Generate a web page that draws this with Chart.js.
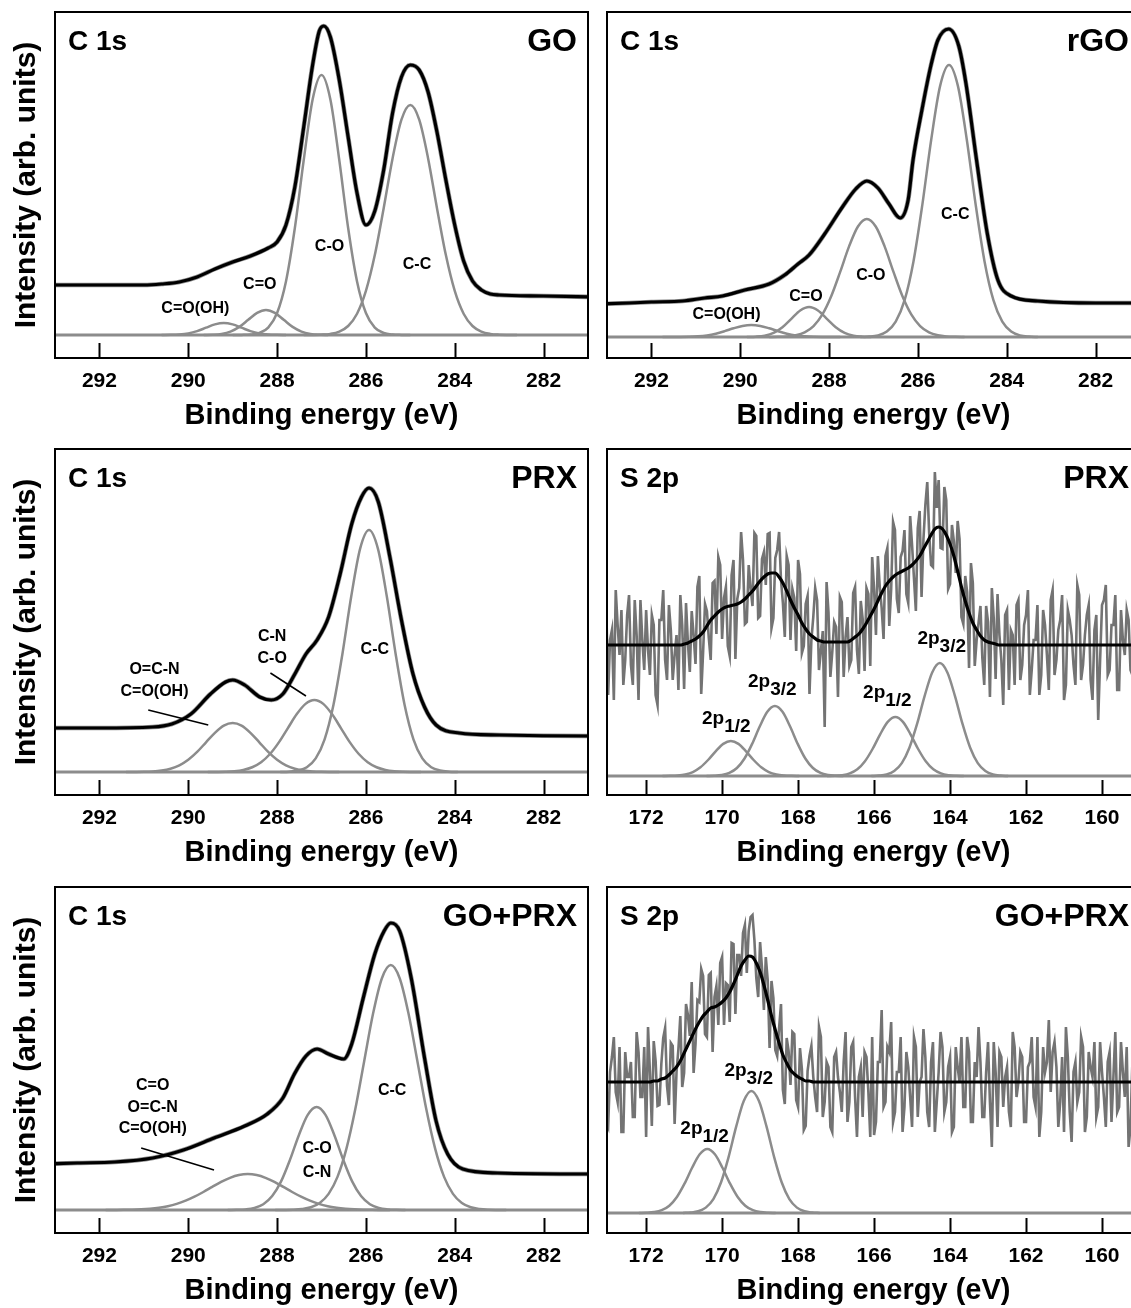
<!DOCTYPE html>
<html>
<head>
<meta charset="utf-8">
<title>XPS C 1s / S 2p</title>
<script src="https://cdn.jsdelivr.net/npm/chart.js"></script>
<style>
  html, body { margin: 0; padding: 0; background: #fff; }
  body { position: relative; width: 1131px; height: 1308px; overflow: hidden; }
  canvas { position: absolute; }
</style>
</head>
<body>
<script>
// ---- axis ticks ----
const c1sTicks = [292, 290, 288, 286, 284, 282];
const s2pTicks = [172, 170, 168, 166, 164, 162, 160];

// ---- C 1s, GO ----  [binding energy, intensity]
const goEnvelope = [[293.2,50],[292.5,50],[292,50],[291.5,50],[291,50],[290.6,51],[290.2,53],[289.8,58],[289.4,66],[289,73],[288.6,79],[288.2,87],[288,93],[287.8,110],[287.6,148],[287.4,208],[287.2,270],[287.05,304],[286.95,309],[286.8,298],[286.6,255],[286.4,198],[286.2,142],[286.0,110],[285.8,124],[285.6,165],[285.4,222],[285.2,258],[285.0,270],[284.8,265],[284.6,243],[284.4,203],[284.2,155],[284.0,110],[283.8,74],[283.6,54],[283.4,45],[283.2,41],[283,40],[282,39],[280.8,38]];
const goCOOH = [[290.6,0],[290.4,0.13],[290.2,0.53],[290.0,1.6],[289.8,3.9],[289.6,7.3],[289.4,10.6],[289.2,12],[289.0,10.6],[288.8,7.3],[288.6,3.9],[288.4,1.6],[288.2,0.53],[288.0,0.13],[287.8,0]];
const goCdO = [[289.65,0],[289.45,0.28],[289.25,1.1],[289.05,3.4],[288.85,8.1],[288.65,15.2],[288.45,22.1],[288.25,25],[288.05,22.1],[287.85,15.2],[287.65,8.1],[287.45,3.4],[287.25,1.1],[287.05,0.28],[286.85,0]];
const goCO = [[289.0,0],[288.8,0.09],[288.6,0.47],[288.4,2.1],[288.2,7.4],[288.0,22],[287.8,53.6],[287.6,107],[287.4,175],[287.2,235.6],[287.0,260],[286.8,235.6],[286.6,175],[286.4,107],[286.2,53.6],[286.0,22],[285.8,7.4],[285.6,2.1],[285.4,0.47],[285.2,0.09],[285.0,0]];
const goCC = [[287.4,0],[287.2,0.08],[287.0,0.32],[286.8,1.1],[286.6,3.4],[286.4,9],[286.2,21.3],[286.0,44.1],[285.8,79.9],[285.6,126.8],[285.4,176.6],[285.2,215.3],[285.0,230],[284.8,215.3],[284.6,176.6],[284.4,126.8],[284.2,79.9],[284.0,44.1],[283.8,21.3],[283.6,9],[283.4,3.4],[283.2,1.1],[283.0,0.32],[282.8,0.08],[282.6,0]];

// ---- C 1s, rGO ----
const rgoEnvelope = [[293.2,33],[292.5,34],[292,35],[291.3,36],[290.8,39],[290.4,41],[289.9,47],[289.35,53],[289,62],[288.7,73],[288.45,82],[288.1,103],[287.7,130],[287.4,148],[287.15,156],[286.9,149],[286.65,133],[286.4,119],[286.22,137],[286.11,177],[285.91,227],[285.71,271],[285.55,297],[285.31,308],[285.08,291],[284.92,254],[284.68,177],[284.44,104],[284.2,57],[283.9,41],[283.3,36],[282,34],[280.8,34]];
const rgoCOOH = [[291.75,0],[291.55,0.02],[291.35,0.07],[291.15,0.24],[290.95,0.67],[290.75,1.62],[290.55,3.34],[290.35,5.84],[290.15,8.71],[289.95,11.08],[289.75,12],[289.55,11.08],[289.35,8.71],[289.15,5.84],[288.95,3.34],[288.75,1.62],[288.55,0.67],[288.35,0.24],[288.15,0.07],[287.95,0.02],[287.75,0]];
const rgoCdO = [[289.85,0],[289.65,0.33],[289.45,1.32],[289.25,4.06],[289.05,9.74],[288.85,18.2],[288.65,26.5],[288.45,30],[288.25,26.5],[288.05,18.2],[287.85,9.74],[287.65,4.06],[287.45,1.32],[287.25,0.33],[287.05,0]];
const rgoCO = [[289.35,0],[289.15,0.17],[288.95,0.55],[288.75,1.72],[288.55,4.63],[288.35,10.94],[288.15,22.6],[287.95,41],[287.75,65.1],[287.55,90.6],[287.35,110.5],[287.15,118],[286.95,110.5],[286.75,90.6],[286.55,65.1],[286.35,41],[286.15,22.6],[285.95,10.94],[285.75,4.63],[285.55,1.72],[285.35,0.55],[285.15,0.17],[284.95,0]];
const rgoCC = [[287.3,0],[287.1,0.41],[286.9,1.63],[286.7,5.39],[286.5,15.26],[286.3,36.8],[286.1,75.6],[285.9,132.4],[285.7,197.5],[285.5,251.1],[285.3,272],[285.1,251.1],[284.9,197.5],[284.7,132.4],[284.5,75.6],[284.3,36.8],[284.1,15.26],[283.9,5.39],[283.7,1.63],[283.5,0.41],[283.3,0]];

// ---- C 1s, PRX ----
const prxEnvelope = [[293.2,44],[292,44],[290.8,45],[290.37,48],[289.94,58],[289.5,78],[289.16,90],[289.0,92],[288.73,87],[288.39,75],[288.13,72],[287.87,78],[287.6,98],[287.35,118],[287.1,132],[286.84,155],[286.58,198],[286.32,248],[286.1,275],[285.93,284],[285.72,270],[285.46,215],[285.2,152],[284.94,98],[284.68,65],[284.42,47],[283.9,39],[283,37],[281,36],[280.8,36]];
const prxOCN = [[291.4,0],[291.2,0.06],[291.0,0.19],[290.8,0.54],[290.6,1.4],[290.4,3.22],[290.2,6.63],[290.0,12.2],[289.8,20.1],[289.6,29.7],[289.4,39.2],[289.2,46.4],[289.0,49],[288.8,46.4],[288.6,39.2],[288.4,29.7],[288.2,20.1],[288.0,12.2],[287.8,6.63],[287.6,3.22],[287.4,1.4],[287.2,0.54],[287.0,0.19],[286.8,0.06],[286.6,0]];
const prxCN = [[289.56,0],[289.36,0.09],[289.16,0.28],[288.96,0.8],[288.76,2.05],[288.56,4.73],[288.36,9.74],[288.16,17.96],[287.96,29.6],[287.76,43.7],[287.56,57.65],[287.36,68.1],[287.16,72],[286.96,68.1],[286.76,57.65],[286.56,43.7],[286.36,29.6],[286.16,17.96],[285.96,9.74],[285.76,4.73],[285.56,2.05],[285.36,0.8],[285.16,0.28],[284.96,0.09],[284.76,0]];
const prxCC = [[287.93,0],[287.73,0.36],[287.53,1.45],[287.33,4.79],[287.13,13.58],[286.93,32.7],[286.73,67.3],[286.53,117.8],[286.33,175.7],[286.13,223.4],[285.93,242],[285.73,223.4],[285.53,175.7],[285.33,117.8],[285.13,67.3],[284.93,32.7],[284.73,13.58],[284.53,4.79],[284.33,1.45],[284.13,0.36],[283.93,0]];

// ---- C 1s, GO+PRX ----
const gpEnvelope = [[293.2,46],[292.5,47],[291.66,48],[290.8,52],[290.11,60],[289.42,72],[288.73,84],[288.22,96],[287.87,112],[287.61,136],[287.35,154],[287.1,161],[286.84,156],[286.5,151],[286.32,166],[286.06,212],[285.8,256],[285.59,279],[285.44,287],[285.24,279],[284.98,232],[284.68,152],[284.42,89],[284.16,56],[283.82,41],[283.04,37],[281,36],[280.8,36]];
const gpOCN = [[291.86,0],[291.66,0.07],[291.46,0.16],[291.26,0.33],[291.06,0.67],[290.86,1.3],[290.66,2.3],[290.46,3.8],[290.26,6.1],[290.06,9.3],[289.86,13.3],[289.66,18],[289.46,23.1],[289.26,28.1],[289.06,32.2],[288.86,35],[288.66,36],[288.46,35],[288.26,32.2],[288.06,28.1],[287.86,23.1],[287.66,18],[287.46,13.3],[287.26,9.3],[287.06,6.1],[286.86,3.8],[286.66,2.3],[286.46,1.3],[286.26,0.67],[286.06,0.33],[285.86,0.16],[285.66,0.07],[285.46,0]];
const gpCO = [[289.11,0],[288.91,0.16],[288.71,0.62],[288.51,2.04],[288.31,5.78],[288.11,13.9],[287.91,28.6],[287.71,50.1],[287.51,74.8],[287.31,95.1],[287.11,103],[286.91,95.1],[286.71,74.8],[286.51,50.1],[286.31,28.6],[286.11,13.9],[285.91,5.78],[285.71,2.04],[285.51,0.62],[285.31,0.16],[285.11,0]];
const gpCC = [[288.04,0],[287.84,0.08],[287.64,0.29],[287.44,0.96],[287.24,2.72],[287.04,6.98],[286.84,16.1],[286.64,33.1],[286.44,61.1],[286.24,100.7],[286.04,148.6],[285.84,196.2],[285.64,231.8],[285.44,245],[285.24,231.8],[285.04,196.2],[284.84,148.6],[284.64,100.7],[284.44,61.1],[284.24,33.1],[284.04,16.1],[283.84,6.98],[283.64,2.72],[283.44,0.96],[283.24,0.29],[283.04,0.08],[282.84,0]];

// ---- S 2p fit grid (eV, 0.1 step) ----
const s2pEnergy = [
  173.2,173.1,173.0,172.9,172.8,172.7,172.6,172.5,172.4,172.3,
  172.2,172.1,172.0,171.9,171.8,171.7,171.6,171.5,171.4,171.3,
  171.2,171.1,171.0,170.9,170.8,170.7,170.6,170.5,170.4,170.3,
  170.2,170.1,170.0,169.9,169.8,169.7,169.6,169.5,169.4,169.3,
  169.2,169.1,169.0,168.9,168.8,168.7,168.6,168.5,168.4,168.3,
  168.2,168.1,168.0,167.9,167.8,167.7,167.6,167.5,167.4,167.3,
  167.2,167.1,167.0,166.9,166.8,166.7,166.6,166.5,166.4,166.3,
  166.2,166.1,166.0,165.9,165.8,165.7,165.6,165.5,165.4,165.3,
  165.2,165.1,165.0,164.9,164.8,164.7,164.6,164.5,164.4,164.3,
  164.2,164.1,164.0,163.9,163.8,163.7,163.6,163.5,163.4,163.3,
  163.2,163.1,163.0,162.9,162.8,162.7,162.6,162.5,162.4,162.3,
  162.2,162.1,162.0,161.9,161.8,161.7,161.6,161.5,161.4,161.3,
  161.2,161.1,161.0,160.9,160.8,160.7,160.6,160.5,160.4,160.3,
  160.2,160.1,160.0,159.9,159.8,159.7,159.6,159.5,159.4,159.3,
  159.2
];

// ---- S 2p measured grid (eV, 0.05 step) ----
const s2pScanEnergy = [
  173.2,173.15,173.1,173.05,173,172.95,172.9,172.85,172.8,172.75,172.7,172.65,172.6,172.55,172.5,172.45,172.4,172.35,172.3,172.25,
  172.2,172.15,172.1,172.05,172,171.95,171.9,171.85,171.8,171.75,171.7,171.65,171.6,171.55,171.5,171.45,171.4,171.35,171.3,171.25,
  171.2,171.15,171.1,171.05,171,170.95,170.9,170.85,170.8,170.75,170.7,170.65,170.6,170.55,170.5,170.45,170.4,170.35,170.3,170.25,
  170.2,170.15,170.1,170.05,170,169.95,169.9,169.85,169.8,169.75,169.7,169.65,169.6,169.55,169.5,169.45,169.4,169.35,169.3,169.25,
  169.2,169.15,169.1,169.05,169,168.95,168.9,168.85,168.8,168.75,168.7,168.65,168.6,168.55,168.5,168.45,168.4,168.35,168.3,168.25,
  168.2,168.15,168.1,168.05,168,167.95,167.9,167.85,167.8,167.75,167.7,167.65,167.6,167.55,167.5,167.45,167.4,167.35,167.3,167.25,
  167.2,167.15,167.1,167.05,167,166.95,166.9,166.85,166.8,166.75,166.7,166.65,166.6,166.55,166.5,166.45,166.4,166.35,166.3,166.25,
  166.2,166.15,166.1,166.05,166,165.95,165.9,165.85,165.8,165.75,165.7,165.65,165.6,165.55,165.5,165.45,165.4,165.35,165.3,165.25,
  165.2,165.15,165.1,165.05,165,164.95,164.9,164.85,164.8,164.75,164.7,164.65,164.6,164.55,164.5,164.45,164.4,164.35,164.3,164.25,
  164.2,164.15,164.1,164.05,164,163.95,163.9,163.85,163.8,163.75,163.7,163.65,163.6,163.55,163.5,163.45,163.4,163.35,163.3,163.25,
  163.2,163.15,163.1,163.05,163,162.95,162.9,162.85,162.8,162.75,162.7,162.65,162.6,162.55,162.5,162.45,162.4,162.35,162.3,162.25,
  162.2,162.15,162.1,162.05,162,161.95,161.9,161.85,161.8,161.75,161.7,161.65,161.6,161.55,161.5,161.45,161.4,161.35,161.3,161.25,
  161.2,161.15,161.1,161.05,161,160.95,160.9,160.85,160.8,160.75,160.7,160.65,160.6,160.55,160.5,160.45,160.4,160.35,160.3,160.25,
  160.2,160.15,160.1,160.05,160,159.95,159.9,159.85,159.8,159.75,159.7,159.65,159.6,159.55,159.5,159.45,159.4,159.35,159.3,159.25,
  159.2
];

// ---- S 2p, PRX ----
const sprxData = [
  141,101,106,171,81,136,146,76,186,151,121,166,91,116,161,181,111,91,176,141,
  76,176,136,106,166,126,101,161,151,81,71,156,156,186,116,96,171,146,96,121,
  141,86,181,151,87,173,133,104,165,141,112,189,200,82,124,172,165,138,116,193,
  195,142,219,211,137,178,189,130,120,201,216,117,177,188,244,216,152,154,211,188,
  170,243,240,158,160,217,224,191,242,243,148,158,218,226,244,196,173,139,220,211,
  136,187,178,125,216,202,123,130,172,180,82,136,159,188,176,106,125,145,49,194,
  164,99,124,154,149,79,179,174,99,139,159,110,116,183,189,126,102,175,157,105,
  188,182,110,219,187,141,220,189,168,137,220,228,150,187,254,246,177,163,219,225,
  246,182,173,260,231,198,165,248,265,179,237,271,294,243,211,209,304,268,296,228,
  227,289,276,187,192,251,235,203,255,237,159,152,200,184,108,213,193,110,136,153,
  170,118,91,170,154,79,188,158,97,182,141,116,71,161,166,86,146,141,91,171,
  176,96,111,151,161,186,81,106,136,136,171,81,101,166,151,121,86,176,186,101,
  116,146,156,181,76,91,166,156,141,111,91,191,181,96,111,141,161,171,96,76,
  146,161,56,116,171,176,191,101,106,151,151,181,86,86,166,136,121,166,156,106,
  101
];
const sprxEnvelope = [
  131,131,131,131,131,131,131,131,131,131,
  131,131,131,131,131,131,131,131,131,131,
  131,131,132,133,135,137,140,144,150,156,
  160,164,167,169,170,171,172,174,177,181,
  185,190,195,199,202,203,203,199,193,185,
  176,168,161,153,147,142,139,136,135,134,
  134,134,134,134,134,134,136,139,142,147,
  153,160,167,175,183,190,195,199,202,204,
  206,208,211,215,220,227,234,241,247,249,
  247,241,232,220,205,189,175,163,153,146,
  140,136,134,133,132,131,131,131,131,131,
  131,131,131,131,131,131,131,131,131,131,
  131,131,131,131,131,131,131,131,131,131,
  131,131,131,131,131,131,131,131,131,131,
  131
];
const sprx12a = [[171.57,0],[171.37,0.14],[171.17,0.5],[170.97,1.54],[170.77,3.99],[170.57,8.75],[170.37,16],[170.17,24.7],[169.97,32.1],[169.77,35],[169.57,32.1],[169.37,24.7],[169.17,16],[168.97,8.75],[168.77,3.99],[168.57,1.54],[168.37,0.5],[168.17,0.14],[167.97,0]];
const sprx32a = [[170.41,0],[170.21,0.27],[170.01,1],[169.81,3.08],[169.61,7.98],[169.41,17.5],[169.21,32.1],[169.01,49.5],[168.81,64.2],[168.61,70],[168.41,64.2],[168.21,49.5],[168.01,32.1],[167.81,17.5],[167.61,7.98],[167.41,3.08],[167.21,1],[167.01,0.27],[166.81,0]];
const sprx12b = [[167.24,0],[167.04,0.23],[166.84,0.84],[166.64,2.6],[166.44,6.7],[166.24,14.75],[166.04,27],[165.84,41.7],[165.64,54.1],[165.44,59],[165.24,54.1],[165.04,41.7],[164.84,27],[164.64,14.75],[164.44,6.7],[164.24,2.6],[164.04,0.84],[163.84,0.23],[163.64,0]];
const sprx32b = [[166.07,0],[165.87,0.44],[165.67,1.6],[165.47,5],[165.27,12.9],[165.07,28.25],[164.87,51.8],[164.67,79.9],[164.47,103.6],[164.27,113],[164.07,103.6],[163.87,79.9],[163.67,51.8],[163.47,28.25],[163.27,12.9],[163.07,5],[162.87,1.6],[162.67,0.44],[162.47,0]];

// ---- S 2p, GO+PRX ----
const sgpData = [
  111,156,146,91,86,141,156,176,121,111,166,81,81,161,136,136,151,96,96,181,
  161,116,116,166,76,186,141,87,172,152,107,108,149,175,185,127,108,170,167,89,
  141,164,197,126,140,209,198,177,231,140,169,213,211,244,237,179,176,238,240,161,
  216,227,188,250,256,188,230,228,191,270,269,199,258,258,237,280,288,240,282,296,
  298,273,235,216,271,245,203,256,233,165,232,215,163,157,185,209,123,109,175,162,
  128,181,179,113,106,165,144,83,87,142,157,167,136,116,101,186,176,96,111,151,
  146,86,81,156,161,136,121,101,151,181,91,111,166,171,116,76,136,146,96,161,
  156,121,76,176,78,91,151,151,203,106,111,166,161,191,91,101,141,141,176,81,
  106,161,146,116,86,176,166,96,131,136,184,156,101,86,151,171,81,111,141,181,
  166,101,111,146,156,81,86,166,146,131,176,106,106,176,161,91,91,151,136,186,
  151,96,96,141,171,111,66,171,141,86,161,156,106,136,146,101,86,181,166,116,
  131,161,156,91,91,146,151,176,116,106,176,76,101,166,141,151,193,121,161,171,
  146,86,111,156,81,186,156,101,71,141,151,111,121,176,166,81,96,161,146,136,
  171,96,106,171,141,116,86,151,161,91,136,181,101,106,171,141,116,166,66,86,
  151
];
const sgpEnvelope = [
  131,131,131,131,131,131,131,131,131,131,
  131,131,131,131,132,132,134,135,138,142,
  146,152,160,168,176,184,191,197,201,205,
  206,208,211,215,221,229,238,247,253,257,
  256,250,241,228,213,197,183,170,158,150,
  143,139,136,134,132,132,131,131,131,131,
  131,131,131,131,131,131,131,131,131,131,
  131,131,131,131,131,131,131,131,131,131,
  131,131,131,131,131,131,131,131,131,131,
  131,131,131,131,131,131,131,131,131,131,
  131,131,131,131,131,131,131,131,131,131,
  131,131,131,131,131,131,131,131,131,131,
  131,131,131,131,131,131,131,131,131,131,
  131,131,131,131,131,131,131,131,131,131,
  131
];
const sgp12 = [[172.19,0],[171.99,0.25],[171.79,0.91],[171.59,2.8],[171.39,7.3],[171.19,16],[170.99,29.3],[170.79,45.2],[170.59,58.7],[170.39,64],[170.19,58.7],[169.99,45.2],[169.79,29.3],[169.59,16],[169.39,7.3],[169.19,2.8],[168.99,0.91],[168.79,0.25],[168.59,0]];
const sgp32 = [[171.03,0],[170.83,0.48],[170.63,1.7],[170.43,5.4],[170.23,13.9],[170.03,30.5],[169.83,55.9],[169.63,86.3],[169.43,111.9],[169.23,122],[169.03,111.9],[168.83,86.3],[168.63,55.9],[168.43,30.5],[168.23,13.9],[168.03,5.4],[167.83,1.7],[167.63,0.48],[167.43,0]];

// ---- shared look ----
const FONT = "'Liberation Sans', Arial, Helvetica, sans-serif";
const BLACK = "#000000";
const DATA_GREY = "#737373";
const FIT_GREY = "#8c8c8c";

Chart.defaults.font.family = FONT;
Chart.defaults.color = BLACK;

function pairsToPoints(pairs) {
    return pairs.map(p => ({ x: p[0], y: p[1] }));
}

function gridToPoints(energy, values) {
    return values.map((v, i) => ({ x: energy[i], y: v }));
}

function curve(points, color, width, smooth) {
    return {
        data: points,
        borderColor: color,
        borderWidth: width,
        pointRadius: 0,
        fill: false,
        tension: 0,
        cubicInterpolationMode: smooth ? "monotone" : "default"
    };
}

// frame, inward ticks, corner titles and peak labels
const panelDecor = {
    id: "panelDecor",
    afterDatasetsDraw(chart, args, opts) {
        const { ctx, chartArea: a, scales: { x, y } } = chart;
        ctx.save();

        ctx.strokeStyle = BLACK;
        ctx.lineWidth = 2;
        ctx.strokeRect(a.left, a.top, a.right - a.left, a.bottom - a.top);

        x.ticks.forEach(t => {
            const px = Math.round(x.getPixelForValue(t.value)) + 0.5;
            ctx.beginPath();
            ctx.moveTo(px, a.bottom);
            ctx.lineTo(px, a.bottom - 15);
            ctx.stroke();
        });

        ctx.fillStyle = BLACK;
        ctx.textBaseline = "alphabetic";
        ctx.font = `bold 28px ${FONT}`;
        ctx.textAlign = "left";
        ctx.fillText(opts.core, a.left + 13, a.top + 38);
        ctx.font = `bold 32px ${FONT}`;
        ctx.textAlign = "right";
        ctx.fillText(opts.sample, a.right - 11, a.top + 39);

        ctx.textBaseline = "middle";
        (opts.labels || []).forEach(l => {
            const cx = x.getPixelForValue(l.x);
            const cy = y.getPixelForValue(l.y);
            if (l.sub) {
                ctx.font = `bold 19px ${FONT}`;
                const w1 = ctx.measureText(l.text).width;
                const w2 = ctx.measureText(l.sub).width;
                const x0 = cx - (w1 + w2) / 2;
                ctx.textAlign = "left";
                ctx.fillText(l.text, x0, cy - 3);
                ctx.fillText(l.sub, x0 + w1, cy + 5);
            } else {
                ctx.font = `bold 16px ${FONT}`;
                ctx.textAlign = "center";
                ctx.fillText(l.text, cx, cy);
            }
        });
        ctx.restore();
    }
};

const c1sBase = [[293.5, 0], [280.5, 0]];
const s2pBase = [[173.5, 0], [158.5, 0]];

const panels = [
    {
        left: 0, top: 0, width: 600, yWidth: 55, yTitle: true,
        xMin: 281, xMax: 293, yMin: -23, yMax: 323, ticks: c1sTicks,
        core: "C 1s", sample: "GO",
        envelope: pairsToPoints(goEnvelope), noisy: null,
        parts: [goCOOH, goCdO, goCO, goCC], base: c1sBase, leaders: [],
        labels: [
            { text: "C-O", x: 286.82, y: 88 },
            { text: "C-C", x: 284.85, y: 70 },
            { text: "C=O", x: 288.39, y: 50 },
            { text: "C=O(OH)", x: 289.84, y: 26 }
        ]
    },
    {
        left: 597, top: 0, width: 555, yWidth: 10, yTitle: false,
        xMin: 281, xMax: 293, yMin: -21, yMax: 325, ticks: c1sTicks,
        core: "C 1s", sample: "rGO",
        envelope: pairsToPoints(rgoEnvelope), noisy: null,
        parts: [rgoCOOH, rgoCdO, rgoCO, rgoCC], base: c1sBase, leaders: [],
        labels: [
            { text: "C-C", x: 285.16, y: 122 },
            { text: "C-O", x: 287.06, y: 61 },
            { text: "C=O", x: 288.52, y: 40 },
            { text: "C=O(OH)", x: 290.31, y: 22 }
        ]
    },
    {
        left: 0, top: 437, width: 600, yWidth: 55, yTitle: true,
        xMin: 281, xMax: 293, yMin: -23, yMax: 323, ticks: c1sTicks,
        core: "C 1s", sample: "PRX",
        envelope: pairsToPoints(prxEnvelope), noisy: null,
        parts: [prxOCN, prxCN, prxCC], base: c1sBase,
        leaders: [[[290.9, 62], [289.55, 47]], [[288.15, 99], [287.35, 76]]],
        labels: [
            { text: "O=C-N", x: 290.76, y: 102 },
            { text: "C=O(OH)", x: 290.76, y: 80 },
            { text: "C-N", x: 288.11, y: 135 },
            { text: "C-O", x: 288.11, y: 113 },
            { text: "C-C", x: 285.8, y: 122 }
        ]
    },
    {
        left: 597, top: 437, width: 555, yWidth: 10, yTitle: false,
        xMin: 159.0, xMax: 173.03, yMin: -19, yMax: 327, ticks: s2pTicks,
        core: "S 2p", sample: "PRX",
        envelope: gridToPoints(s2pEnergy, sprxEnvelope), noisy: gridToPoints(s2pScanEnergy, sprxData),
        parts: [sprx12a, sprx32a, sprx12b, sprx32b], base: s2pBase, leaders: [],
        labels: [
            { text: "2p", sub: "1/2", x: 169.89, y: 54 },
            { text: "2p", sub: "3/2", x: 168.68, y: 91 },
            { text: "2p", sub: "1/2", x: 165.65, y: 80 },
            { text: "2p", sub: "3/2", x: 164.22, y: 134 }
        ]
    },
    {
        left: 0, top: 875, width: 600, yWidth: 55, yTitle: true,
        xMin: 281, xMax: 293, yMin: -23, yMax: 323, ticks: c1sTicks,
        core: "C 1s", sample: "GO+PRX",
        envelope: pairsToPoints(gpEnvelope), noisy: null,
        parts: [gpOCN, gpCO, gpCC], base: c1sBase,
        leaders: [[[291.06, 62], [289.42, 40]]],
        labels: [
            { text: "C=O", x: 290.8, y: 124 },
            { text: "O=C-N", x: 290.8, y: 102 },
            { text: "C=O(OH)", x: 290.8, y: 81 },
            { text: "C-O", x: 287.1, y: 61 },
            { text: "C-N", x: 287.1, y: 37 },
            { text: "C-C", x: 285.41, y: 119 }
        ]
    },
    {
        left: 597, top: 875, width: 555, yWidth: 10, yTitle: false,
        xMin: 159.0, xMax: 173.03, yMin: -20, yMax: 326, ticks: s2pTicks,
        core: "S 2p", sample: "GO+PRX",
        envelope: gridToPoints(s2pEnergy, sgpEnvelope), noisy: gridToPoints(s2pScanEnergy, sgpData),
        parts: [sgp12, sgp32], base: s2pBase, leaders: [],
        labels: [
            { text: "2p", sub: "1/2", x: 170.46, y: 81 },
            { text: "2p", sub: "3/2", x: 169.3, y: 139 }
        ]
    }
];

panels.forEach(p => {
    const canvas = document.createElement("canvas");
    canvas.width = p.width;
    canvas.height = 450;
    canvas.style.left = `${p.left}px`;
    canvas.style.top = `${p.top}px`;
    canvas.style.width = `${p.width}px`;
    canvas.style.height = "450px";
    document.body.appendChild(canvas);

    // first dataset is drawn on top
    const datasets = [curve(p.envelope, BLACK, 3.2, true)];
    p.leaders.forEach(l => datasets.push(curve(pairsToPoints(l), BLACK, 1.5, false)));
    if (p.noisy) {
        datasets.push(curve(p.noisy, DATA_GREY, 2.6, false));
    } else {
        datasets.push(curve(p.envelope, "#909090", 4.6, true));
    }
    p.parts.forEach(part => datasets.push(curve(pairsToPoints(part), FIT_GREY, 2.5, true)));
    datasets.push(curve(pairsToPoints(p.base), FIT_GREY, 3, false));

    new Chart(canvas, {
        type: "line",
        data: { datasets },
        plugins: [panelDecor],
        options: {
            responsive: false,
            devicePixelRatio: 1,
            animation: false,
            events: [],
            layout: { padding: { top: 12, right: 12, left: 0, bottom: 0 } },
            plugins: {
                legend: { display: false },
                tooltip: { enabled: false },
                panelDecor: { core: p.core, sample: p.sample, labels: p.labels }
            },
            scales: {
                x: {
                    type: "linear",
                    reverse: true,
                    min: p.xMin,
                    max: p.xMax,
                    afterBuildTicks(scale) {
                        scale.ticks = p.ticks.map(v => ({ value: v }));
                    },
                    afterFit(scale) {
                        scale.height = 92;
                    },
                    grid: { display: false, drawTicks: false },
                    border: { display: false },
                    ticks: {
                        color: BLACK,
                        autoSkip: false,
                        maxRotation: 0,
                        padding: 11,
                        font: { size: 21, weight: "bold" }
                    },
                    title: {
                        display: true,
                        text: "Binding energy (eV)",
                        color: BLACK,
                        font: { size: 29, weight: "bold" },
                        padding: { top: 0, bottom: 17 }
                    }
                },
                y: {
                    type: "linear",
                    min: p.yMin,
                    max: p.yMax,
                    afterFit(scale) {
                        scale.width = p.yWidth;
                    },
                    grid: { display: false, drawTicks: false },
                    border: { display: false },
                    ticks: { display: false },
                    title: {
                        display: p.yTitle,
                        text: "Intensity (arb. units)",
                        color: BLACK,
                        font: { size: 30, weight: "bold" },
                        padding: { top: 9, bottom: 0 }
                    }
                }
            }
        }
    });
});
</script>
</body>
</html>
